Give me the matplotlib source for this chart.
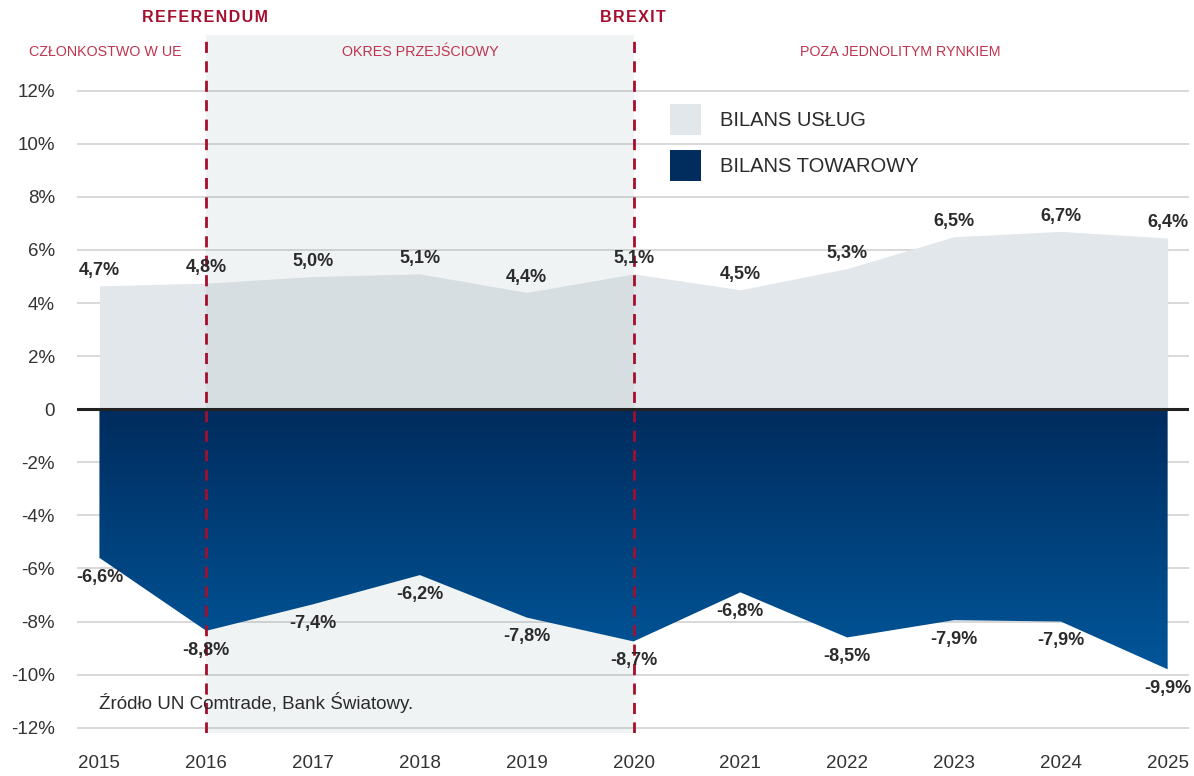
import numpy as np
import matplotlib.pyplot as plt
from matplotlib.colors import LinearSegmentedColormap
from matplotlib.patches import Patch

plt.rcParams['font.family'] = ['Liberation Sans', 'DejaVu Sans']

years = [2015, 2016, 2017, 2018, 2019, 2020, 2021, 2022, 2023, 2024, 2025]
services = [4.65, 4.75, 5.0, 5.1, 4.4, 5.1, 4.5, 5.3, 6.5, 6.7, 6.45]
goods = [-5.6, -8.35, -7.35, -6.25, -7.85, -8.75, -6.9, -8.6, -7.95, -8.0, -9.8]
services_lbl = ['4,7%', '4,8%', '5,0%', '5,1%', '4,4%', '5,1%', '4,5%', '5,3%', '6,5%', '6,7%', '6,4%']
goods_lbl = ['-6,6%', '-8,8%', '-7,4%', '-6,2%', '-7,8%', '-8,7%', '-6,8%', '-8,5%', '-7,9%', '-7,9%', '-9,9%']
yticks = [-12, -10, -8, -6, -4, -2, 0, 2, 4, 6, 8, 10, 12]
ytick_lbl = ['-12%', '-10%', '-8%', '-6%', '-4%', '-2%', '0', '2%', '4%', '6%', '8%', '10%', '12%']

red = '#a50e2d'
red_light = '#c0334f'
txt = '#2b2b2b'

fig = plt.figure(figsize=(11.94, 7.76), dpi=100)
ax = fig.add_axes([77 / 1194, 43 / 776, 1112 / 1194, 698 / 776])
ax.set_xlim(2014.79, 2025.2)
ax.set_ylim(-12.2, 14.1)

# grid
for y in yticks:
    if y != 0:
        ax.axhline(y, color='#d2d2d2', lw=1.2, zorder=0)

# services area
ax.fill_between(years, 0, services, color='#e2e7eb', lw=0, zorder=1)

# transition period shading
ax.axvspan(2016, 2020, color='#73919b', alpha=0.1, lw=0, zorder=2)

# goods area with vertical gradient
poly = ax.fill_between(years, 0, goods, color='none', lw=0, zorder=3)
cmap = LinearSegmentedColormap.from_list('g', ['#002c5e', '#00579b'])
grad = np.linspace(0, 1, 256).reshape(-1, 1)
im = ax.imshow(grad, cmap=cmap, aspect='auto', extent=[2015, 2025, -10, 0],
               origin='upper', zorder=3)
im.set_clip_path(poly.get_paths()[0], transform=ax.transData)

ax.axhline(0, color='#222222', lw=2.2, zorder=4)

for x in (2016, 2020):
    ax.axvline(x, color=red, lw=2, ls=(0, (4, 3)), zorder=5)

# value labels
for x, v, s in zip(years, services, services_lbl):
    ax.annotate(s, (x, v), xytext=(0, 11), textcoords='offset points',
                ha='center', va='center', fontsize=13, fontweight='bold', color=txt, zorder=6)
for x, v, s in zip(years, goods, goods_lbl):
    ax.annotate(s, (x, v), xytext=(0, -14), textcoords='offset points',
                ha='center', va='center', fontsize=13, fontweight='bold', color=txt, zorder=6)

# headers
fig.text(205 / 1194, 1 - 17 / 776, '\u200a'.join('REFERENDUM'), ha='center', va='center',
         fontsize=11.5, fontweight='bold', color=red)
fig.text(633 / 1194, 1 - 17 / 776, '\u200a'.join('BREXIT'), ha='center', va='center',
         fontsize=11.5, fontweight='bold', color=red)
for xc, s in [(105, 'CZŁONKOSTWO W UE'), (420, 'OKRES PRZEJŚCIOWY'), (900, 'POZA JEDNOLITYM RYNKIEM')]:
    fig.text(xc / 1194, 1 - 52 / 776, s, ha='center', va='center', fontsize=10.3, color=red_light)

# source
ax.text(2015, -11.05, 'Źródło UN Comtrade, Bank Światowy.', ha='left', va='center',
        fontsize=13.5, color=txt, zorder=6)

# legend
handles = [Patch(facecolor='#e2e7eb', label='BILANS USŁUG'),
           Patch(facecolor='#002c5e', label='BILANS TOWAROWY')]
ax.legend(handles=handles, loc='upper left', bbox_to_anchor=(585 / 1112, 1 - 61 / 698),
          frameon=False, fontsize=14.5, handlelength=1.55, handleheight=2.0,
          labelspacing=0.75, handletextpad=0.95, labelcolor=txt, borderaxespad=0)

ax.set_xticks(years)
ax.set_xticklabels([str(y) for y in years])
ax.set_yticks(yticks)
ax.set_yticklabels(ytick_lbl)
ax.tick_params(length=0, labelsize=13.5, labelcolor='#333333')
ax.tick_params(axis='y', pad=16)
ax.tick_params(axis='x', pad=16)
for sp in ax.spines.values():
    sp.set_visible(False)

fig.savefig('out.png', dpi=100)
